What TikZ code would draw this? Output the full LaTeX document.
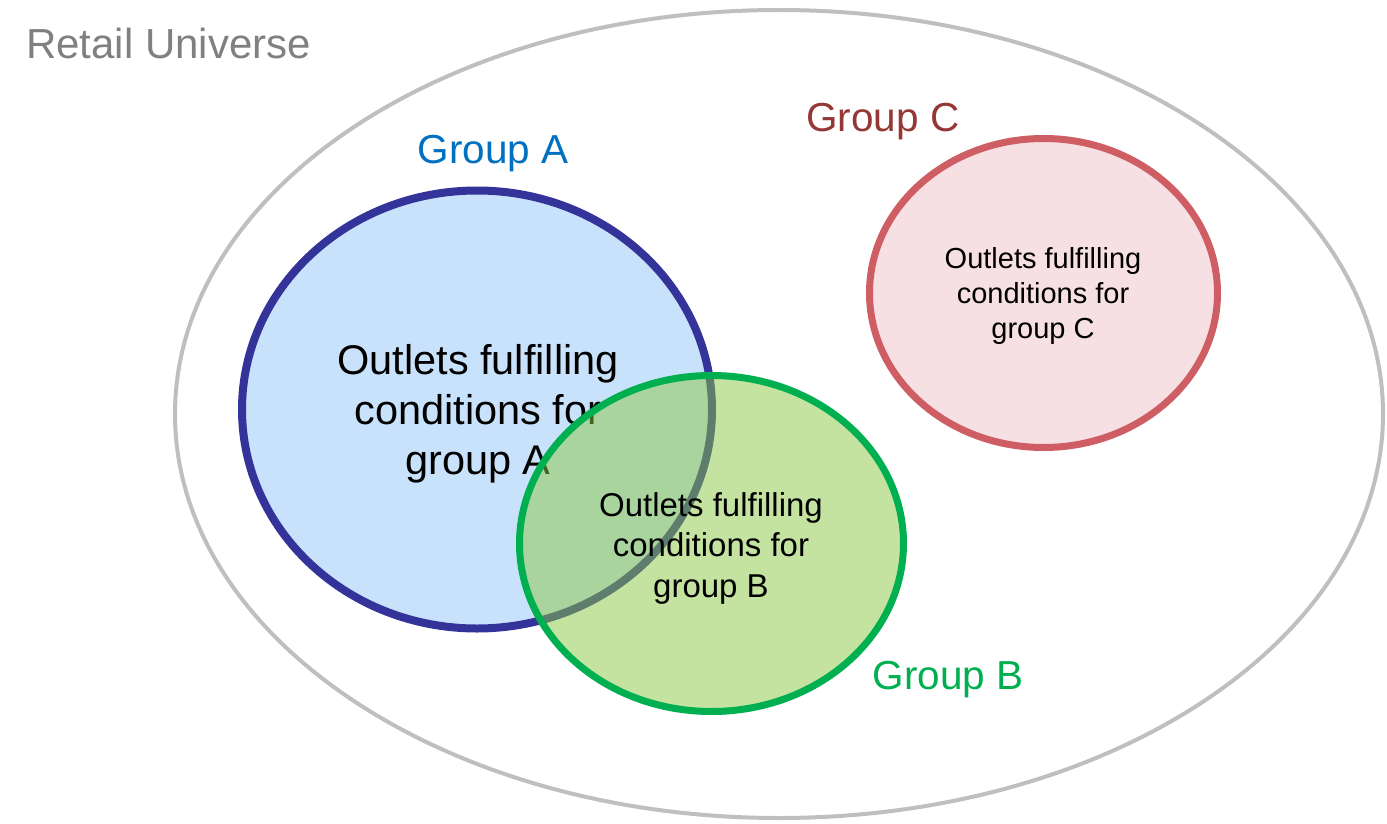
\documentclass[tikz,border=0pt]{standalone}
\usepackage{fontspec}
\setmainfont{Liberation Sans}
\definecolor{outergray}{RGB}{191,191,191}
\definecolor{labelgray}{RGB}{128,128,128}
\definecolor{astroke}{RGB}{51,51,153}
\definecolor{afill}{RGB}{201,226,251}
\definecolor{bstroke}{RGB}{0,176,80}
\definecolor{bfill}{RGB}{139,199,65}
\definecolor{cstroke}{RGB}{206,94,100}
\definecolor{cfill}{RGB}{246,224,227}
\definecolor{alabel}{RGB}{0,112,192}
\definecolor{clabel}{RGB}{149,55,53}
\begin{document}
\begin{tikzpicture}[x=1pt,y=-1pt,
  grouplabel/.style={inner sep=0pt,font=\fontsize{40.5}{48}\selectfont},
  bigtext/.style={align=center,inner sep=0pt,font=\fontsize{41.5}{50}\selectfont},
  midtext/.style={align=center,inner sep=0pt,font=\fontsize{33}{40.5}\selectfont},
  smalltext/.style={align=center,inner sep=0pt,font=\fontsize{29}{35}\selectfont}]
\useasboundingbox (0,0) rectangle (1387,824);
% outer universe
\draw[outergray,line width=4pt] (779,414) ellipse [x radius=604,y radius=404];
\node[grouplabel,anchor=west,text=labelgray,font=\fontsize{42}{49}\selectfont] (retail) at (26,43) {Retail Universe};
% group C
\draw[cstroke,fill=cfill,line width=7pt] (1043.5,293) ellipse [x radius=174,y radius=154.5];
\node[smalltext] (ctext) at (1043,296) {Outlets fulfilling\\conditions for\\group C};
\node[grouplabel,text=clabel] (clab) at (883,122) {Group C};
% group A
\draw[astroke,fill=afill,line width=8pt] (477,409.5) ellipse [x radius=235,y radius=219];
\node[bigtext] (atext) at (478,414) {Outlets fulfilling\\conditions for\\group A};
\node[grouplabel,text=alabel] (alab) at (493,154) {Group A};
% group B
\fill[bfill,fill opacity=0.5] (711.5,543.5) ellipse [x radius=192,y radius=168];
\draw[bstroke,line width=7pt] (711.5,543.5) ellipse [x radius=192,y radius=168];
\node[midtext] (btext) at (711,548) {Outlets fulfilling\\conditions for\\group B};
\node[grouplabel,text=bstroke] (blab) at (948,680) {Group B};
\end{tikzpicture}
\end{document}
